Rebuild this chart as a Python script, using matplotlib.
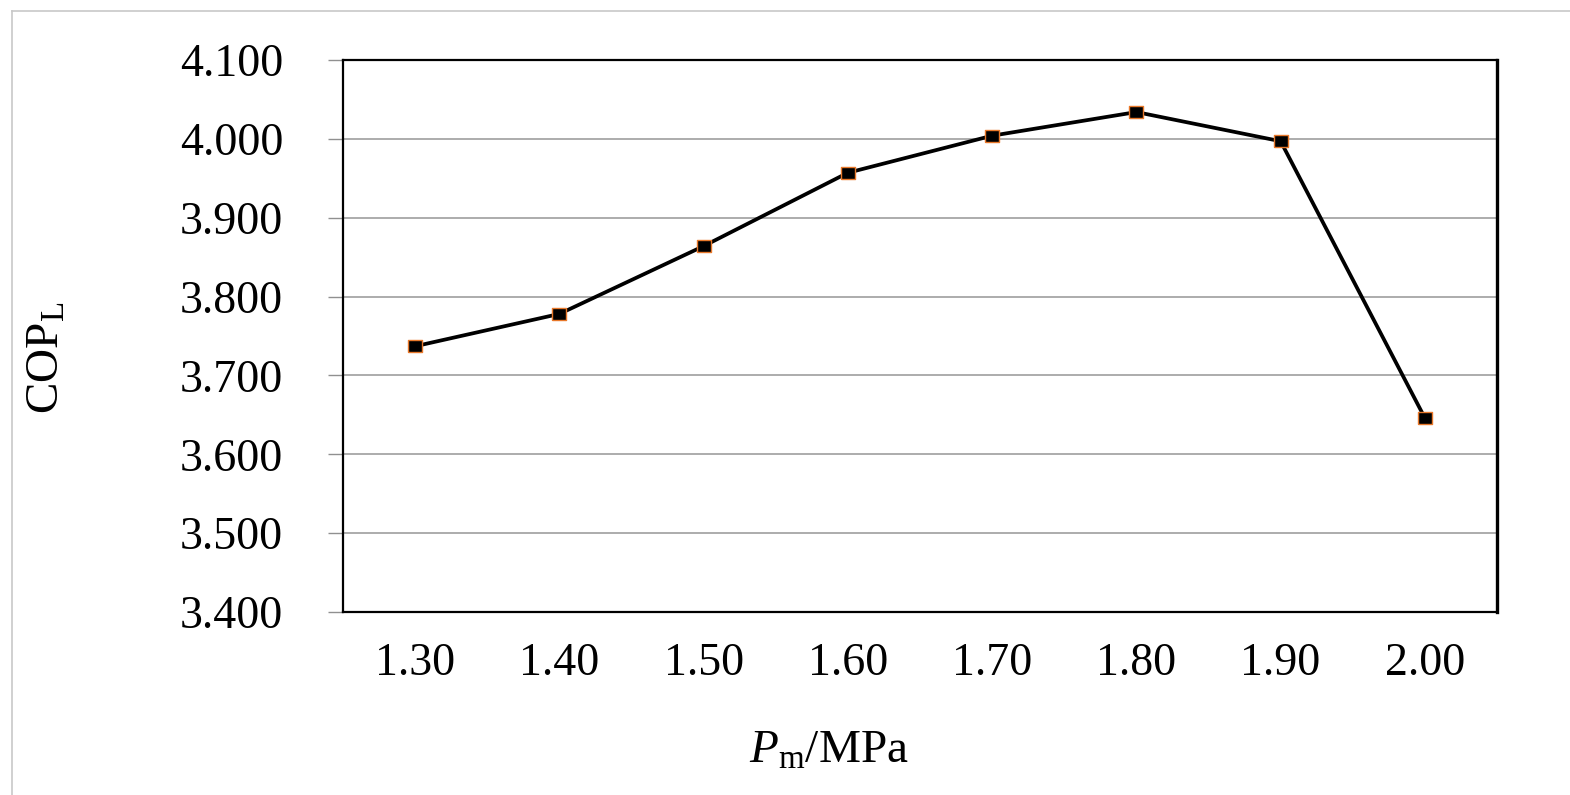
import matplotlib
matplotlib.use('Agg')
import matplotlib.pyplot as plt
from matplotlib.lines import Line2D

# Data
pressure_labels = ['1.30', '1.40', '1.50', '1.60', '1.70', '1.80', '1.90', '2.00']
cop_values = [3.737, 3.778, 3.864, 3.957, 4.004, 4.034, 3.997, 3.646]
y_ticks = [3.4, 3.5, 3.6, 3.7, 3.8, 3.9, 4.0, 4.1]

plt.rcParams['font.family'] = ['Liberation Serif', 'DejaVu Serif']
plt.rcParams['mathtext.fontset'] = 'custom'
plt.rcParams['mathtext.rm'] = 'Liberation Serif'
plt.rcParams['mathtext.it'] = 'Liberation Serif:italic'

fig = plt.figure(figsize=(15.7, 7.95), dpi=100)
ax = fig.add_axes([343 / 1570, 1 - 612 / 795, (1497 - 343) / 1570, (612 - 60) / 795])

# light outer frame (top and left edges only visible in the reference)
fig.add_artist(Line2D([12 / 1570, 1.0], [1 - 11 / 795, 1 - 11 / 795],
                      transform=fig.transFigure, color='#c8c8c8', lw=1.2))
fig.add_artist(Line2D([12 / 1570, 12 / 1570], [0.0, 1 - 11 / 795],
                      transform=fig.transFigure, color='#c8c8c8', lw=1.2))

x = list(range(len(pressure_labels)))
rect_marker = [(-1.3, -1), (1.3, -1), (1.3, 1), (-1.3, 1), (-1.3, -1)]
ax.plot(x, cop_values, color='black', lw=2.7, marker=rect_marker,
        markersize=10.5, markerfacecolor='black', markeredgecolor='#e8782a',
        markeredgewidth=1.0, zorder=3)

ax.set_xlim(-0.5, len(pressure_labels) - 0.5)
ax.set_ylim(3.4, 4.1)
ax.set_xticks(x)
ax.set_xticklabels(pressure_labels)
ax.set_yticks(y_ticks)
ax.set_yticklabels(['%.3f' % v for v in y_ticks])

ax.grid(axis='y', color='#a6a6a6', lw=1.3)
ax.set_axisbelow(True)

ax.tick_params(axis='y', length=11, width=1.0, color='#909090', pad=32, labelsize=33)
ax.tick_params(axis='x', length=0, pad=22, labelsize=33)

for side, w in [('top', 1.6), ('left', 1.6), ('bottom', 1.6), ('right', 2.4)]:
    ax.spines[side].set_color('black')
    ax.spines[side].set_linewidth(w)

ax.set_ylabel(r'COP$_{\mathrm{L}}$', fontsize=34)
ax.yaxis.set_label_coords(-0.238, 0.46)
ax.set_xlabel(r'$P_{\mathrm{m}}$/MPa', fontsize=34, labelpad=22)
ax.xaxis.set_label_coords(0.421, -0.215)

fig.savefig('out.png', dpi=100, facecolor='white')
